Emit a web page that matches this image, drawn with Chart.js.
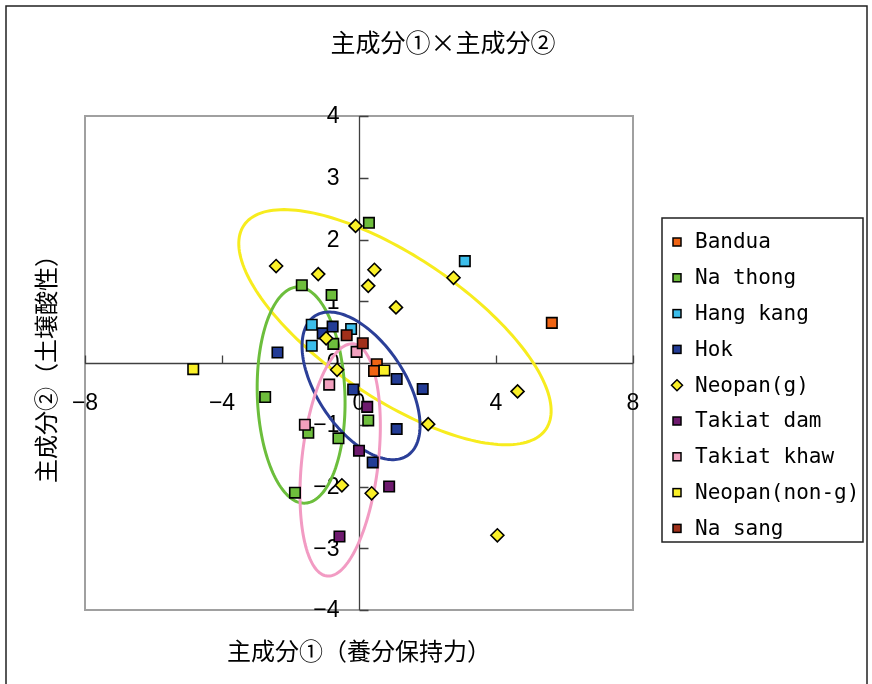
<!DOCTYPE html>
<html lang="ja">
<head>
<meta charset="UTF-8">
<title>主成分①×主成分②</title>
<script src="https://cdn.jsdelivr.net/npm/chart.js@4.4.1/dist/chart.umd.min.js"></script>
<style>
  html, body { margin: 0; padding: 0; background: #fff; }
  canvas { display: block; }
</style>
</head>
<body>
<canvas id="pcaChart" width="872" height="684"></canvas>
<script>
// 系列(品種)
const seriesNames = ['Bandua', 'Na thong', 'Hang kang', 'Hok', 'Neopan(g)', 'Takiat dam', 'Takiat khaw', 'Neopan(non-g)', 'Na sang'];
const seriesColors = ['#F06414', '#6EBE3C', '#3CBEEB', '#233C96', '#FAF028', '#6E1A6E', '#F2A0BE', '#FAF028', '#A0301A'];
const seriesShapes = ['rect', 'rect', 'rect', 'rect', 'rectRot', 'rect', 'rect', 'rect', 'rect'];

// 主成分①(x) / 主成分②(y) のスコア
const pc1Bandua = [5.63, 0.52, 0.44];
const pc2Bandua = [0.65, -0.02, -0.13];
const pc1NaThong = [0.29, -1.67, -0.80, -0.75, -2.74, -1.48, -0.60, -1.87, 0.27];
const pc2NaThong = [2.27, 1.26, 1.10, 0.31, -0.55, -1.13, -1.22, -2.10, -0.93];
const pc1HangKang = [3.09, -1.38, -1.38, -0.23];
const pc2HangKang = [1.65, 0.62, 0.28, 0.55];
const pc1Hok = [-2.38, -1.06, -0.77, 1.10, 1.86, 1.10, 0.40, -0.17];
const pc2Hok = [0.17, 0.48, 0.59, -0.26, -0.42, -1.07, -1.61, -0.43];
const pc1NeopanG = [-0.10, -2.42, -1.19, 0.45, 0.27, 1.08, 2.76, -0.96, 4.63, 2.02, -0.50, 0.37, 4.04, -0.64];
const pc2NeopanG = [2.22, 1.57, 1.44, 1.51, 1.25, 0.90, 1.38, 0.40, -0.46, -0.99, -1.98, -2.11, -2.79, -0.11];
const pc1TakiatDam = [0.24, 0.00, 0.88, -0.57];
const pc2TakiatDam = [-0.71, -1.42, -2.00, -2.81];
const pc1TakiatKhaw = [-0.07, -0.87, -1.58];
const pc2TakiatKhaw = [0.18, -0.35, -1.00];
const pc1NeopanNonG = [-4.84, 0.74];
const pc2NeopanNonG = [-0.10, -0.12];
const pc1NaSang = [-0.36, 0.11];
const pc2NaSang = [0.45, 0.32];

const seriesX = [pc1Bandua, pc1NaThong, pc1HangKang, pc1Hok, pc1NeopanG, pc1TakiatDam, pc1TakiatKhaw, pc1NeopanNonG, pc1NaSang];
const seriesY = [pc2Bandua, pc2NaThong, pc2HangKang, pc2Hok, pc2NeopanG, pc2TakiatDam, pc2TakiatKhaw, pc2NeopanNonG, pc2NaSang];

// 目盛り
const xTicks = [-8, -4, 0, 4, 8];
const yTicks = [-4, -3, -2, -1, 0, 1, 2, 3, 4];

// グループを囲む楕円 (中心と2本の半軸ベクトル, データ単位)
const ellipseCenters = [[1.05, 0.58], [-1.69, -0.52], [0.06, -0.37], [-0.55, -1.57]];
const ellipseAxisA = [[4.41, -1.65], [0.09, -1.75], [1.35, -1.13], [0.38, 1.88]];
const ellipseAxisB = [[-1.16, -0.95], [1.28, 0.00], [-1.07, -0.39], [1.11, -0.06]];
const ellipseColors = ['#F7EC1E', '#6CBE3C', '#2B3F98', '#F29BC3'];

// 文字
const chartTitle = '主成分①×主成分②';
const xTitle = '主成分①（養分保持力）';
const yTitle = '主成分②（土壌酸性）';

const cjkFont = '"Noto Sans CJK JP", sans-serif';

function tickText(v) {
    return String(v).replace('-', '−');
}

// 軸・目盛り・楕円・凡例・タイトルを描くプラグイン
const pcaFrame = {
    id: 'pcaFrame',
    beforeDatasetsDraw(chart) {
        const ctx = chart.ctx;
        const area = chart.chartArea;
        const xs = chart.scales.x;
        const ys = chart.scales.y;
        const x0 = Math.round(xs.getPixelForValue(0)) + 0.5;
        const y0 = Math.round(ys.getPixelForValue(0)) + 0.5;

        ctx.save();

        // プロットエリアの枠
        ctx.strokeStyle = '#A0A0A0';
        ctx.lineWidth = 2;
        ctx.strokeRect(area.left, area.top, area.right - area.left, area.bottom - area.top);

        // 軸線
        ctx.strokeStyle = '#404040';
        ctx.lineWidth = 1.3;
        ctx.beginPath();
        ctx.moveTo(area.left, y0);
        ctx.lineTo(area.right, y0);
        ctx.moveTo(x0, area.top);
        ctx.lineTo(x0, area.bottom);

        // 目盛り線
        xTicks.forEach(v => {
            const px = Math.round(xs.getPixelForValue(v)) + 0.5;
            ctx.moveTo(px, y0);
            ctx.lineTo(px, y0 - 8);
        });
        yTicks.forEach(v => {
            const py = Math.round(ys.getPixelForValue(v)) + 0.5;
            ctx.moveTo(x0, py);
            ctx.lineTo(x0 + 9, py);
        });
        ctx.stroke();

        // 目盛りラベル
        ctx.fillStyle = '#000';
        ctx.font = '23px "Liberation Sans", sans-serif';
        ctx.textAlign = 'center';
        ctx.textBaseline = 'middle';
        xTicks.forEach(v => {
            ctx.fillText(tickText(v), xs.getPixelForValue(v), y0 + 40);
        });
        ctx.textAlign = 'right';
        yTicks.forEach(v => {
            ctx.fillText(tickText(v), x0 - 20, ys.getPixelForValue(v) + 1);
        });

        // 楕円
        ctx.lineWidth = 3;
        ellipseCenters.forEach((c, i) => {
            const a = ellipseAxisA[i];
            const b = ellipseAxisB[i];
            ctx.strokeStyle = ellipseColors[i];
            ctx.beginPath();
            for (let k = 0; k <= 180; k++) {
                const t = k / 180 * Math.PI * 2;
                const vx = c[0] + a[0] * Math.cos(t) + b[0] * Math.sin(t);
                const vy = c[1] + a[1] * Math.cos(t) + b[1] * Math.sin(t);
                const px = xs.getPixelForValue(vx);
                const py = ys.getPixelForValue(vy);
                if (k === 0) ctx.moveTo(px, py); else ctx.lineTo(px, py);
            }
            ctx.closePath();
            ctx.stroke();
        });

        ctx.restore();
    },
    afterDraw(chart) {
        const ctx = chart.ctx;
        const area = chart.chartArea;
        ctx.save();

        // 外枠
        ctx.strokeStyle = '#202020';
        ctx.lineWidth = 1.5;
        ctx.strokeRect(6, 6, 861, 700);

        // タイトル
        ctx.fillStyle = '#000';
        ctx.textAlign = 'center';
        ctx.textBaseline = 'middle';
        ctx.font = '25px ' + cjkFont;
        ctx.fillText(chartTitle, 443, 42);
        ctx.font = '24px ' + cjkFont;
        ctx.fillText(xTitle, (area.left + area.right) / 2, 651);
        ctx.save();
        ctx.translate(46, (area.top + area.bottom) / 2);
        ctx.rotate(-Math.PI / 2);
        ctx.fillText(yTitle, 0, 0);
        ctx.restore();

        // 凡例
        const lx = 662, ly = 218, lw = 201, lh = 324;
        ctx.fillStyle = '#fff';
        ctx.fillRect(lx, ly, lw, lh);
        ctx.strokeStyle = '#202020';
        ctx.lineWidth = 1.5;
        ctx.strokeRect(lx, ly, lw, lh);
        ctx.font = '21px "DejaVu Sans Mono", monospace';
        ctx.textAlign = 'left';
        chart.data.datasets.forEach((ds, i) => {
            const cy = ly + 24 + i * 35.8;
            ctx.fillStyle = ds.backgroundColor;
            ctx.strokeStyle = '#000';
            ctx.lineWidth = 1.5;
            if (ds.pointStyle === 'rectRot') {
                ctx.beginPath();
                ctx.moveTo(677, cy - 5.5);
                ctx.lineTo(682.5, cy);
                ctx.lineTo(677, cy + 5.5);
                ctx.lineTo(671.5, cy);
                ctx.closePath();
                ctx.fill();
                ctx.stroke();
            } else {
                ctx.fillRect(673, cy - 4, 8, 8);
                ctx.strokeRect(673, cy - 4, 8, 8);
            }
            ctx.fillStyle = '#000';
            ctx.fillText(ds.label, 695, cy + 1);
        });

        ctx.restore();
    }
};

const datasets = seriesNames.map((name, i) => ({
    label: name,
    data: seriesX[i].map((x, k) => ({ x: x, y: seriesY[i][k] })),
    backgroundColor: seriesColors[i],
    borderColor: '#000',
    borderWidth: 1.6,
    pointStyle: seriesShapes[i],
    pointRadius: seriesShapes[i] === 'rectRot' ? 6.5 : 7.4,
    // 後の系列ほど上に描く
    order: seriesNames.length - i
}));

new Chart(document.getElementById('pcaChart'), {
    type: 'scatter',
    data: { datasets: datasets },
    options: {
        responsive: false,
        animation: false,
        layout: {
            padding: { left: 85, top: 116, right: 239, bottom: 74 }
        },
        scales: {
            x: { type: 'linear', min: -8, max: 8, display: false },
            y: { type: 'linear', min: -4, max: 4, display: false }
        },
        plugins: {
            legend: { display: false },
            tooltip: { enabled: false }
        }
    },
    plugins: [pcaFrame]
});
</script>
</body>
</html>
